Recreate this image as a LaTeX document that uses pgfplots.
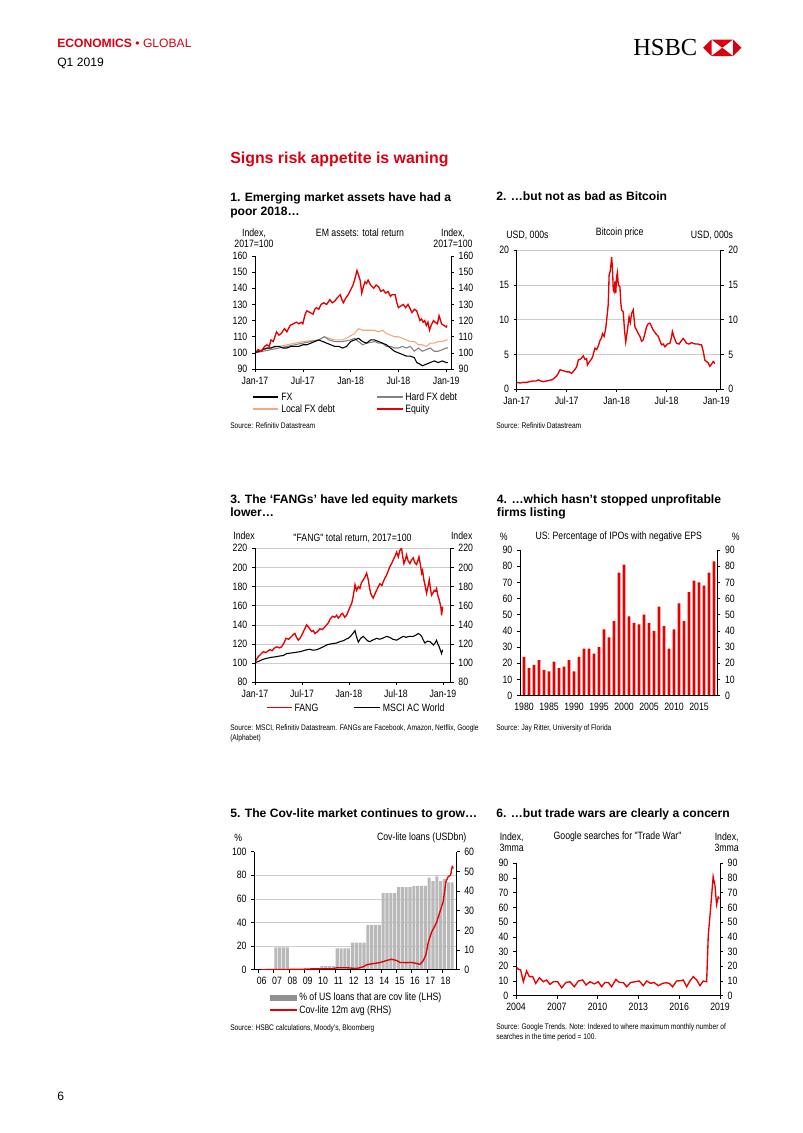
\documentclass[border=0pt]{standalone}
\usepackage{fontspec}
\setmainfont{Liberation Sans}
\newfontfamily\narrow[FakeStretch=0.82]{Liberation Sans}
\newfontfamily\hsbcserif{Liberation Serif}
\usepackage{pgfplots}
\pgfplotsset{compat=1.18}

\definecolor{hsbcred}{RGB}{219,0,17}
\definecolor{lnred}{RGB}{232,0,0}
\definecolor{lforange}{RGB}{244,168,128}
\definecolor{hfgrey}{RGB}{130,130,130}
\definecolor{gridgrey}{RGB}{205,205,205}
\definecolor{bargrey}{RGB}{185,185,185}

\newcommand{\chartfont}{\narrow\fontsize{7.9}{8.4}\selectfont}
\newcommand{\srcfont}{\narrow\fontsize{6}{7.2}\selectfont}
\newcommand{\ttlfont}{\bfseries\fontsize{9}{10}\selectfont}

\tikzset{
  lab/.style={inner sep=0pt, font=\chartfont},
  ttl/.style={anchor=mid west, inner sep=0pt, font=\ttlfont},
  src/.style={anchor=mid west, inner sep=0pt, font=\srcfont},
}

\pgfplotsset{
  base/.style={
    scale only axis, anchor=south west,
    axis line style={draw=none},
    tick align=outside, major tick length=2.2pt,
    tick style={black, line width=0.4pt},
    ticklabel style={font=\chartfont, text=black},
    /pgf/number format/assume math mode=true,
    /pgf/number format/1000 sep={},
    clip mode=individual,
    xtick pos=left, ytick pos=left,
    grid style={gridgrey, line width=0.4pt},
  },
  twin/.style={base, ytick pos=right, yticklabel pos=right, hide x axis},
}
\newcommand{\frameit}{\draw[black, line width=0.5pt] (rel axis cs:0,1) -- (rel axis cs:0,0) -- (rel axis cs:1,0) -- (rel axis cs:1,1);}

\begin{document}
\begin{tikzpicture}
\begin{scope}[x=0.7423pt, y=-0.7423pt]
\fill[white] (0,0) rectangle (802,1133);
% header
\node[anchor=mid west, inner sep=0, text=hsbcred, font=\fontsize{9}{10}\selectfont] at (57,44) {\textbf{ECONOMICS} • GLOBAL};
\node[anchor=mid west, inner sep=0, font=\fontsize{9}{10}\selectfont] at (57,63) {Q1 2019};
\node[anchor=base west, inner sep=0, font=\hsbcserif\fontsize{18.2}{20}\selectfont] at (633,55.5) {HSBC};
\fill[hsbcred] (703,47.75) -- (711.5,39.5) -- (711.5,56) -- cycle;
\fill[hsbcred] (741.5,47.75) -- (733,39.5) -- (733,56) -- cycle;
\fill[hsbcred] (711.5,39.5) -- (733,39.5) -- (722.25,47.75) -- cycle;
\fill[hsbcred] (711.5,56) -- (733,56) -- (722.25,47.75) -- cycle;
\node[anchor=mid west, inner sep=0, text=hsbcred, font=\bfseries\fontsize{11.8}{13}\selectfont] at (230,160) {Signs risk appetite is waning};
\node[anchor=mid west, inner sep=0, font=\fontsize{9}{10}\selectfont] at (57,1097) {6};

% chart 1 texts
\node[ttl] at (230,198) {1. Emerging market assets have had a};
\node[ttl] at (230,212) {poor 2018…};
\node[lab, align=center] at (254,238.5) {Index,\\2017=100};
\node[lab, align=center] at (453,238.5) {Index,\\2017=100};
\node[lab] at (360,233) {EM assets: total return};
\draw[black, line width=0.8pt] (253,397) -- (278,397);
\node[lab, anchor=mid west] at (281,397) {FX};
\draw[hfgrey, line width=0.8pt] (377,397) -- (403,397);
\node[lab, anchor=mid west] at (405,397) {Hard FX debt};
\draw[lforange, line width=0.8pt] (253,409) -- (278,409);
\node[lab, anchor=mid west] at (281,409) {Local FX debt};
\draw[lnred, line width=1pt] (377,409) -- (403,409);
\node[lab, anchor=mid west] at (405,409) {Equity};
\node[src] at (230,425) {Source: Refinitiv Datastream};
\coordinate (A1) at (255,369);

% chart 2 texts
\node[ttl] at (496,197) {2. …but not as bad as Bitcoin};
\node[lab] at (527.5,235) {USD, 000s};
\node[lab] at (712,235) {USD, 000s};
\node[lab] at (619.7,233) {Bitcoin price};
\node[src] at (496,425) {Source: Refinitiv Datastream};
\coordinate (A2) at (516.7,389.3);

% chart 3 texts
\node[ttl] at (230,500) {3. The ‘FANGs’ have led equity markets};
\node[ttl] at (230,513.3) {lower…};
\node[lab] at (244,536) {Index};
\node[lab] at (461.7,536) {Index};
\node[lab] at (352.5,538) {"FANG" total return, 2017=100};
\draw[lnred, line width=0.8pt] (266.7,707.7) -- (291.7,707.7);
\node[lab, anchor=mid west] at (294.3,707.7) {FANG};
\draw[black, line width=0.8pt] (354.3,707.7) -- (380,707.7);
\node[lab, anchor=mid west] at (382.7,707.7) {MSCI AC World};
\node[src] at (230,727.3) {Source: MSCI, Refinitiv Datastream. FANGs are Facebook, Amazon, Netflix, Google};
\node[src] at (230,737.3) {(Alphabet)};
\coordinate (A3) at (255,682.3);

% chart 4 texts
\node[ttl] at (496.7,500) {4. …which hasn’t stopped unprofitable};
\node[ttl] at (496.7,513.3) {firms listing};
\node[lab] at (503.7,536.7) {\%};
\node[lab] at (735.7,536.7) {\%};
\node[lab] at (618.8,536.7) {US: Percentage of IPOs with negative EPS};
\node[src] at (496,727.3) {Source: Jay Ritter, University of Florida};
\coordinate (A4) at (520,695.7);

% chart 5 texts
\node[ttl] at (230,814.3) {5. The Cov-lite market continues to grow…};
\node[lab] at (238.3,837.7) {\%};
\node[lab] at (421.7,837.7) {Cov-lite loans (USDbn)};
\fill[bargrey!78!black] (270,994.5) rectangle (296.7,1000.5);
\node[lab, anchor=mid west] at (299,997.3) {\% of US loans that are cov lite (LHS)};
\draw[lnred, line width=0.8pt] (270,1010) -- (296.7,1010);
\node[lab, anchor=mid west] at (299,1010) {Cov-lite 12m avg (RHS)};
\node[src] at (230,1027.3) {Source: HSBC calculations, Moody's, Bloomberg};
\coordinate (A5) at (254.3,969.7);

% chart 6 texts
\node[ttl] at (496,814.3) {6. …but trade wars are clearly a concern};
\node[lab, align=center] at (511.7,842.2) {Index,\\3mma};
\node[lab, align=center] at (726.7,842.2) {Index,\\3mma};
\node[lab] at (617.5,836.7) {Google searches for "Trade War"};
\node[src] at (496,1025.7) {Source: Google Trends. Note: Indexed to where maximum monthly number of};
\node[src] at (496,1035.7) {searches in the time period = 100.};
\coordinate (A6) at (516,995.7);
\end{scope}

% ---------------- chart 1
\begin{axis}[base, at={(A1)}, width=145.5pt, height=83.9pt,
  xmin=0, xmax=24.6, ymin=90, ymax=160,
  xtick={0,6,12,18,24}, xticklabels={Jan-17,Jul-17,Jan-18,Jul-18,Jan-19},
  ytick={90,100,...,160}]
\addplot[lforange, line width=0.8pt] coordinates {
(0,100) (1,102) (2,103) (3,104) (4,105) (5,106) (6,107) (7,107.5) (8,108) (8.7,110) (9.3,109) (10,108) (11,108) (11.8,110) (12.5,112) (13,115) (13.5,114) (14,114) (15,114) (15.5,113) (16,114) (16.5,112) (17,111) (17.5,110) (18,110) (18.5,109) (19,108) (19.5,107) (20,107) (20.5,105) (21,105) (21.5,104) (22,106) (22.5,106) (23,107) (23.5,107) (24,108) (24.2,108)};
\addplot[hfgrey, line width=0.8pt] coordinates {
(0,100) (1,101) (2,102) (3,103) (4,104) (5,105) (6,106) (7,107) (8,108) (8.7,110) (9.3,108) (10,107) (11,107) (12,108) (12.5,109) (13,107) (13.5,105) (14,106) (15,107) (15.5,106) (16,106) (16.5,104) (17,104) (17.5,103) (18,103) (18.5,104) (19,103) (19.5,104) (20,101) (20.5,103) (21,101) (21.5,102) (22,103) (22.5,101) (23,101) (23.5,102) (24,103) (24.2,103)};
\addplot[black, line width=0.8pt] coordinates {
(0,100) (0.5,101) (1,102) (1.5,103) (2,103) (2.5,104) (3,104) (3.5,103) (4,103) (4.5,104) (5,104) (5.5,104) (6,105) (6.5,105) (7,106) (7.5,107) (8,108) (8.5,107) (9,106) (9.5,105) (10,104) (10.5,104) (11,103) (11.5,104) (12,107) (12.5,108) (13,109) (13.5,107) (14,106) (14.5,108) (15,108) (15.5,107) (16,106) (16.5,105) (17,103) (17.5,101) (18,100) (18.5,99) (19,98) (19.5,98) (20,97) (20.3,94) (20.7,93) (21,92) (21.5,93) (22,94) (22.5,95) (23,94) (23.5,95) (24,94) (24.2,94)};
\addplot[lnred, line width=1pt] coordinates {
(0,100) (0.4,102) (0.8,101) (1.2,104) (1.5,105) (1.8,104) (2.0,108) (2.3,107) (2.7,113) (3.0,111) (3.3,112) (3.7,115) (4.0,113) (4.4,117) (4.8,118) (5.2,119) (5.5,118) (5.8,119) (6.0,118) (6.3,124) (6.5,126) (6.9,125) (7.3,124) (7.5,127) (7.7,128) (8.0,127) (8.3,130) (8.6,131) (9.0,130) (9.4,133) (9.7,131) (10.0,132) (10.3,134) (10.7,136) (10.9,133) (11.1,131) (11.4,134) (11.7,136) (12.0,139) (12.3,142) (12.6,147) (12.8,151) (13.0,148) (13.2,145) (13.4,137) (13.6,141) (13.8,144) (14.0,143) (14.2,145) (14.5,142) (14.9,140) (15.2,142) (15.5,141) (15.8,138) (16.1,139) (16.4,137) (16.7,138) (17.0,135) (17.2,136) (17.6,136) (17.8,131) (18.0,128) (18.3,129) (18.6,130) (18.9,128) (19.2,130) (19.5,127) (19.7,125) (20.0,127) (20.3,126) (20.5,123) (20.7,120) (20.9,121) (21.1,119) (21.3,120) (21.5,117) (21.7,119) (21.9,114) (22.1,117) (22.4,120) (22.6,119) (22.9,118) (23.1,123) (23.3,120) (23.4,118) (23.7,117) (24.0,116) (24.1,117)};
\frameit
\end{axis}
\begin{axis}[twin, at={(A1)}, width=145.5pt, height=83.9pt,
  xmin=0, xmax=24.6, ymin=90, ymax=160, ytick={90,100,...,160}]
\end{axis}

% ---------------- chart 2
\begin{axis}[base, at={(A2)}, width=151.4pt, height=103.4pt,
  xmin=0, xmax=24.5, ymin=0, ymax=20,
  xtick={0,6,12,18,24}, xticklabels={Jan-17,Jul-17,Jan-18,Jul-18,Jan-19},
  ytick={0,5,...,20}, ymajorgrids]
\addplot[lnred, line width=1pt] coordinates {
(0,1.0) (0.4,0.9) (0.8,1.0) (1.2,1.0) (1.6,1.1) (2.0,1.2) (2.3,1.2) (2.6,1.35) (2.9,1.2) (3.2,1.1) (3.6,1.2) (4.0,1.3) (4.3,1.4) (4.6,1.7) (4.8,1.9) (5.0,2.3) (5.2,2.8) (5.5,2.7) (5.8,2.6) (6.0,2.5) (6.3,2.5) (6.6,2.3) (6.9,2.7) (7.2,3.2) (7.4,4.2) (7.6,4.3) (7.8,4.5) (8.0,4.8) (8.2,4.3) (8.4,4.4) (8.5,3.5) (8.7,3.9) (8.9,4.2) (9.1,4.6) (9.4,5.9) (9.6,5.7) (9.8,6.2) (10.0,7.0) (10.2,7.4) (10.3,8.0) (10.5,7.6) (10.7,8.8) (10.9,11.0) (11.0,12.3) (11.1,16.4) (11.25,17.0) (11.4,19.0) (11.5,17.5) (11.6,14.3) (11.7,14.0) (11.8,15.5) (11.9,13.8) (12.0,16.2) (12.1,16.8) (12.2,15.0) (12.4,14.7) (12.5,12.5) (12.6,11.4) (12.8,11.1) (12.95,8.5) (13.1,6.8) (13.3,8.5) (13.5,10.4) (13.65,9.6) (13.8,10.9) (14.0,11.4) (14.2,9.0) (14.4,8.5) (14.6,8.0) (14.8,7.6) (15.0,6.9) (15.2,7.1) (15.4,8.0) (15.6,9.0) (15.8,9.4) (16.0,9.5) (16.2,9.0) (16.4,8.5) (16.7,8.0) (17.0,7.6) (17.2,7.0) (17.4,6.4) (17.6,6.5) (17.8,6.1) (18.1,6.5) (18.4,6.6) (18.6,7.5) (18.7,8.3) (18.9,7.5) (19.2,6.6) (19.5,6.5) (19.8,7.0) (20.0,7.3) (20.2,7.0) (20.4,6.6) (20.7,6.5) (21.0,6.7) (21.2,6.6) (21.5,6.5) (21.8,6.5) (22.0,6.4) (22.2,6.4) (22.4,5.5) (22.6,4.2) (22.8,4.0) (23.0,3.8) (23.2,3.3) (23.4,3.6) (23.6,4.0) (23.8,3.7)};
\frameit
\end{axis}
\begin{axis}[twin, at={(A2)}, width=151.4pt, height=103.4pt,
  xmin=0, xmax=24.5, ymin=0, ymax=20, ytick={0,5,...,20}]
\end{axis}

% ---------------- chart 3
\begin{axis}[base, at={(A3)}, width=145.3pt, height=99.5pt,
  xmin=0, xmax=25, ymin=80, ymax=220,
  xtick={0,6,12,18,24}, xticklabels={Jan-17,Jul-17,Jan-18,Jul-18,Jan-19},
  ytick={80,100,...,220}, ymajorgrids]
\addplot[black, line width=0.8pt] coordinates {
(0,100.5) (0.5,102) (1.0,104) (1.49,105) (2.0,106) (2.5,106.5) (3.19,107.5) (3.6,108) (4.04,110) (4.5,110.5) (5.0,111) (5.74,112) (6.2,113) (6.6,114) (7.0,114.5) (7.4,113.5) (7.87,114) (8.3,115.5) (8.7,117) (9.15,119) (9.6,120) (10.0,120.5) (10.4,121) (10.85,122.5) (11.3,123.5) (11.6,125) (11.91,126) (12.2,128) (12.5,131) (12.77,134) (12.95,128) (13.19,122) (13.5,126) (13.83,128) (14.2,125) (14.45,123) (14.68,122.5) (15.0,124) (15.3,125) (15.53,126) (15.9,125) (16.3,126) (16.81,128) (17.2,127) (17.6,125) (18.09,124) (18.5,126) (18.94,128) (19.3,127) (19.7,128) (20.21,128) (20.5,129) (20.85,131) (21.05,130) (21.28,128) (21.5,124) (21.7,121) (22.0,123) (22.34,122.5) (22.55,121) (22.77,119) (23.0,121) (23.19,124) (23.35,120) (23.53,117) (23.7,113) (23.83,110) (23.96,114)};
\addplot[lnred, line width=1pt] coordinates {
(0,101.6) (0.2,104) (0.43,107) (0.7,109) (1.06,112) (1.4,111) (1.7,113) (1.91,114) (2.2,113) (2.5,116) (2.77,117) (3.1,116) (3.4,117) (3.7,121) (3.96,126) (4.3,125) (4.68,128) (4.9,130) (5.1,131) (5.3,127) (5.53,124) (5.75,126) (5.96,129) (6.3,135) (6.6,140) (6.9,137) (7.23,133) (7.45,134) (7.66,131) (8.0,133) (8.3,136) (8.6,135) (8.94,138) (9.15,140) (9.36,142) (9.6,146) (9.91,149) (10.2,148) (10.43,150) (10.65,147) (10.85,149) (11.0,151) (11.19,152) (11.45,148) (11.7,150) (12.0,156) (12.2,160) (12.34,162) (12.55,170) (12.77,182) (12.98,176) (13.2,180) (13.4,178) (13.6,184) (13.83,187) (14.05,190) (14.26,194) (14.47,187) (14.6,180) (14.77,173) (14.95,170) (15.1,168) (15.3,172) (15.53,176) (15.75,180) (15.96,183) (16.2,181) (16.38,185) (16.6,189) (16.8,192) (17.0,196) (17.23,201) (17.45,204) (17.66,208) (17.9,212) (18.09,216) (18.3,211) (18.51,218) (18.72,220) (18.85,212) (19.02,204) (19.2,208) (19.36,213) (19.55,207) (19.79,204) (20.0,208) (20.21,210) (20.4,205) (20.64,203) (20.8,207) (20.94,211) (21.1,204) (21.28,194) (21.4,197) (21.57,187) (21.75,180) (21.91,173) (22.1,180) (22.26,187) (22.4,178) (22.55,171) (22.7,173) (22.89,176) (23.05,175) (23.19,178) (23.3,173) (23.4,169) (23.5,167) (23.62,163) (23.75,158) (23.83,150) (23.9,155) (23.96,159)};
\frameit
\end{axis}
\begin{axis}[twin, at={(A3)}, width=145.3pt, height=99.5pt,
  xmin=0, xmax=25, ymin=80, ymax=220, ytick={80,100,...,220}]
\end{axis}

% ---------------- chart 4
\begin{axis}[base, at={(A4)}, width=146.5pt, height=108.2pt,
  xmin=1979.2, xmax=2018.67, ymin=0, ymax=90,
  xtick={1980,1985,...,2015}, xtick style={draw=none},
  ytick={0,10,...,90}]
\addplot[ybar, bar width=0.55, fill=lnred, draw=none] coordinates {
(1980,24) (1981,17) (1982,19) (1983,22) (1984,16) (1985,15) (1986,21) (1987,17) (1988,18) (1989,22) (1990,15) (1991,24) (1992,29) (1993,29) (1994,26) (1995,30) (1996,41) (1997,36) (1998,46) (1999,76) (2000,81) (2001,49) (2002,45) (2003,44) (2004,50) (2005,45) (2006,40) (2007,55) (2008,43) (2009,29) (2010,41) (2011,57) (2012,46) (2013,64) (2014,71) (2015,70) (2016,68) (2017,76) (2018,83)};
\frameit
\end{axis}
\begin{axis}[twin, at={(A4)}, width=146.5pt, height=108.2pt,
  xmin=1979.2, xmax=2018.67, ymin=0, ymax=90, ytick={0,10,...,90}]
\end{axis}

% ---------------- chart 5
\begin{axis}[base, at={(A5)}, width=150.2pt, height=87.6pt,
  xmin=-0.157, xmax=13.05, ymin=0, ymax=100,
  xtick={0.1,1.1,...,12.1}, xticklabels={06,07,08,09,10,11,12,13,14,15,16,17,18},
  xticklabel style={xshift=2.6pt},
  ytick={0,20,...,100},
  extra y ticks={20,40,60,80}, extra y tick labels={},
  extra y tick style={ymajorgrids=true, major tick length=0pt}]
\addplot[ybar, bar width=0.2, fill=bargrey, draw=none] coordinates {
(1.255,19) (1.505,19) (1.755,19) (2.005,19)
(3.755,1) (4.005,1)
(4.255,3) (4.505,3) (4.755,3) (5.005,3)
(5.255,18) (5.505,18) (5.755,18) (6.005,18)
(6.255,23) (6.505,23) (6.755,23) (7.005,23)
(7.255,38) (7.505,38) (7.755,38) (8.005,38)
(8.255,65) (8.505,65) (8.755,65) (9.005,65)
(9.255,70) (9.505,70) (9.755,70) (10.005,70)
(10.255,71) (10.505,71) (10.755,71) (11.005,71)
(11.255,78) (11.505,75) (11.755,79) (12.005,75)
(12.255,77) (12.505,74) (12.755,74)};
\frameit
\end{axis}
\begin{axis}[twin, at={(A5)}, width=150.2pt, height=87.6pt,
  xmin=-0.157, xmax=13.05, ymin=0, ymax=60, ytick={0,10,...,60}]
\addplot[lnred, line width=1pt] coordinates {
(0.3,0) (2.83,0.2) (3.48,0.4) (5.0,0.5) (5.22,1.0) (5.87,1.0) (6.52,0.6) (6.96,1.5) (7.17,2.5) (7.5,3.0) (8.04,3.6) (8.48,4.7) (8.8,5.3) (9.13,4.7) (9.35,3.7) (9.78,3.6) (10.11,3.7) (10.43,3.2) (10.65,2.7) (10.87,4.6) (11.04,7.5) (11.2,14) (11.41,19) (11.74,24) (11.96,29.5) (12.17,34.6) (12.35,44.7) (12.5,47.3) (12.65,48) (12.76,52.4) (12.83,51.5)};
\end{axis}

% ---------------- chart 6
\begin{axis}[base, at={(A6)}, width=151.4pt, height=98.3pt,
  xmin=2004, xmax=2019, ymin=0, ymax=90,
  xtick={2004,2007,...,2019}, ytick={0,10,...,90}]
\addplot[lnred, line width=1pt] coordinates {
(2004.0,19.7) (2004.17,18) (2004.34,17.5) (2004.54,9.5) (2004.78,16.8) (2004.98,13) (2005.23,13) (2005.45,8.4) (2005.72,12.2) (2006.01,9.5) (2006.25,10.7) (2006.5,7.7) (2006.75,9.5) (2007.06,9.5) (2007.36,5.4) (2007.68,9) (2007.97,9.5) (2008.29,6.1) (2008.58,10) (2008.9,10.7) (2009.15,7.3) (2009.44,9.5) (2009.76,8) (2010.05,9.5) (2010.3,6.1) (2010.54,9) (2010.79,9) (2011.03,6.1) (2011.35,11.1) (2011.6,9) (2011.89,9) (2012.14,6.1) (2012.43,9) (2012.75,9.5) (2013.07,10) (2013.36,6.8) (2013.61,10) (2013.9,8.4) (2014.15,9) (2014.47,6.8) (2014.78,8.4) (2015.03,8.8) (2015.27,8.4) (2015.52,6.1) (2015.81,10) (2016.13,10.2) (2016.3,10.7) (2016.55,6.1) (2016.79,10) (2017.04,13) (2017.29,10.7) (2017.53,6.8) (2017.77,10) (2018.02,9.5) (2018.14,41) (2018.31,59) (2018.5,81) (2018.63,75) (2018.75,62) (2018.87,67) (2018.95,66)};
\frameit
\end{axis}
\begin{axis}[twin, at={(A6)}, width=151.4pt, height=98.3pt,
  xmin=2004, xmax=2019, ymin=0, ymax=90, ytick={0,10,...,90}]
\end{axis}
\end{tikzpicture}
\end{document}
